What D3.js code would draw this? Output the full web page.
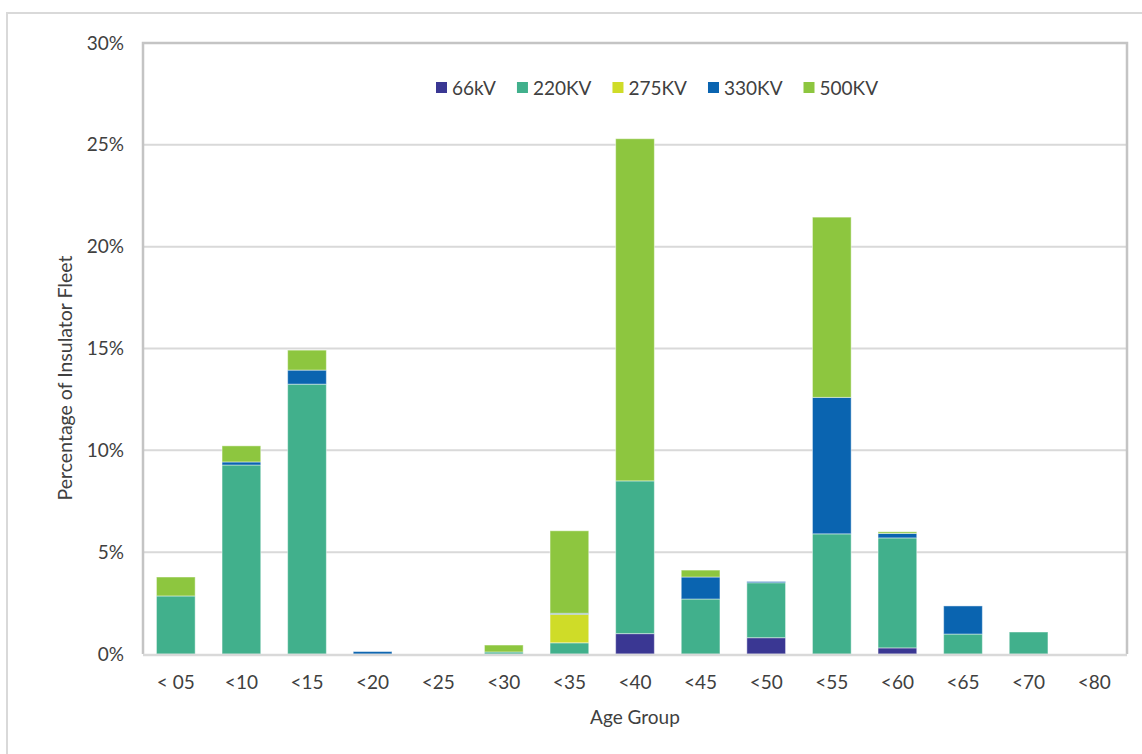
<!DOCTYPE html>
<html>
<head>
<meta charset="utf-8">
<script src="https://cdn.jsdelivr.net/npm/d3@7"></script>
<style>
  html, body { margin: 0; padding: 0; background: #fff; }
  svg { display: block; font-family: Lato, "Open Sans", sans-serif; }
</style>
</head>
<body>
<svg id="chart" width="1142" height="754"></svg>
<script>
const categories = ["< 05", "<10", "<15", "<20", "<25", "<30", "<35", "<40", "<45", "<50", "<55", "<60", "<65", "<70", "<80"];
const seriesNames = ["66kV", "220KV", "275KV", "330KV", "500KV"];
const seriesColors = ["#3a3793", "#41b08c", "#cfdc28", "#0a64b0", "#8dc63f"];
const v66kV  = [0, 0, 0, 0, 0, 0, 0, 1.0, 0, 0.8, 0, 0.3, 0, 0, 0];
const v220KV = [2.85, 9.28, 13.25, 0, 0, 0.1, 0.55, 7.5, 2.7, 2.7, 5.9, 5.4, 0.98, 1.08, 0];
const v275KV = [0, 0, 0, 0, 0, 0, 1.4, 0, 0, 0, 0, 0, 0, 0, 0];
const v330KV = [0, 0.15, 0.69, 0.12, 0, 0, 0.05, 0, 1.08, 0.06, 6.7, 0.22, 1.38, 0, 0];
const v500KV = [0.93, 0.79, 0.98, 0, 0, 0.34, 4.05, 16.8, 0.34, 0, 8.85, 0.08, 0, 0, 0];
const yTicks = [0, 5, 10, 15, 20, 25, 30];
const xTitle = "Age Group";
const yTitle = "Percentage of Insulator Fleet";

const seriesValues = [v66kV, v220KV, v275KV, v330KV, v500KV];
const table = categories.map((c, i) => {
  const row = { cat: c };
  seriesNames.forEach((s, j) => row[s] = seriesValues[j][i]);
  return row;
});

const svg = d3.select("#chart");
const pL = 143, pR = 1127, pT = 43, pB = 654;
const fs = 19;
const txt = "#404040";

// outer frame
svg.append("rect").attr("x", 7).attr("y", 13).attr("width", 1150).attr("height", 760)
  .attr("fill", "none").attr("stroke", "#d9d9d9").attr("stroke-width", 2);

const x = d3.scaleBand().domain(categories).range([pL, pR]).paddingInner(0.41).paddingOuter(0.205);
const y = d3.scaleLinear().domain([0, 30]).range([pB, pT]);

// gridlines
svg.append("g").selectAll("line").data(yTicks.filter(t => t > 0 && t < 30)).join("line")
  .attr("x1", pL).attr("x2", pR)
  .attr("y1", d => y(d)).attr("y2", d => y(d))
  .attr("stroke", "#d9d9d9").attr("stroke-width", 2);

// plot border (left, top, right)
svg.append("path")
  .attr("d", `M${pL},${pB}V${pT}H${pR}V${pB}`)
  .attr("fill", "none").attr("stroke", "#c4c4c4").attr("stroke-width", 2.5);

// stacked bars
const stack = d3.stack().keys(seriesNames)(table);
svg.append("g").selectAll("g").data(stack).join("g")
  .attr("fill", (d, i) => seriesColors[i])
  .selectAll("rect").data(d => d.filter(p => p[1] - p[0] > 0)).join("rect")
  .attr("x", d => x(d.data.cat))
  .attr("width", x.bandwidth())
  .attr("y", d => y(d[1]))
  .attr("height", d => y(d[0]) - y(d[1]))
  .attr("stroke", "rgba(255,255,255,0.45)").attr("stroke-width", 1);

// x axis line
svg.append("line").attr("x1", pL).attr("x2", pR).attr("y1", pB + 1).attr("y2", pB + 1)
  .attr("stroke", "#d9d9d9").attr("stroke-width", 2.5);

// y axis
const yAxis = d3.axisLeft(y).tickValues(yTicks).tickFormat(d => d + "%").tickSize(0).tickPadding(19);
const yg = svg.append("g").attr("transform", `translate(${pL},0)`).call(yAxis);
yg.select(".domain").remove();
yg.selectAll("text").attr("font-size", fs).attr("fill", txt).attr("font-family", "Lato, sans-serif");

// x axis
const xAxis = d3.axisBottom(x).tickSize(0).tickPadding(22);
const xg = svg.append("g").attr("transform", `translate(0,${pB})`).call(xAxis);
xg.select(".domain").remove();
xg.selectAll("text").attr("font-size", fs).attr("fill", txt).attr("font-family", "Lato, sans-serif");

// axis titles
svg.append("text").attr("x", (pL + pR) / 2).attr("y", 724).attr("text-anchor", "middle")
  .attr("font-size", fs).attr("fill", txt).text(xTitle);
svg.append("text").attr("transform", `translate(72,378) rotate(-90)`)
  .attr("text-anchor", "middle").attr("font-size", 19.5).attr("fill", txt).text(yTitle);

// legend
const lg = svg.append("g");
let lx = 436;
seriesNames.forEach((s, i) => {
  const g = lg.append("g").attr("transform", `translate(${lx},88)`);
  g.append("rect").attr("x", 0).attr("y", -6).attr("width", 11).attr("height", 11).attr("fill", seriesColors[i]);
  const t = g.append("text").attr("x", 16).attr("y", 7).attr("font-size", fs).attr("fill", txt).text(s);
  lx += 16 + t.node().getComputedTextLength() + 21;
});
</script>
</body>
</html>
